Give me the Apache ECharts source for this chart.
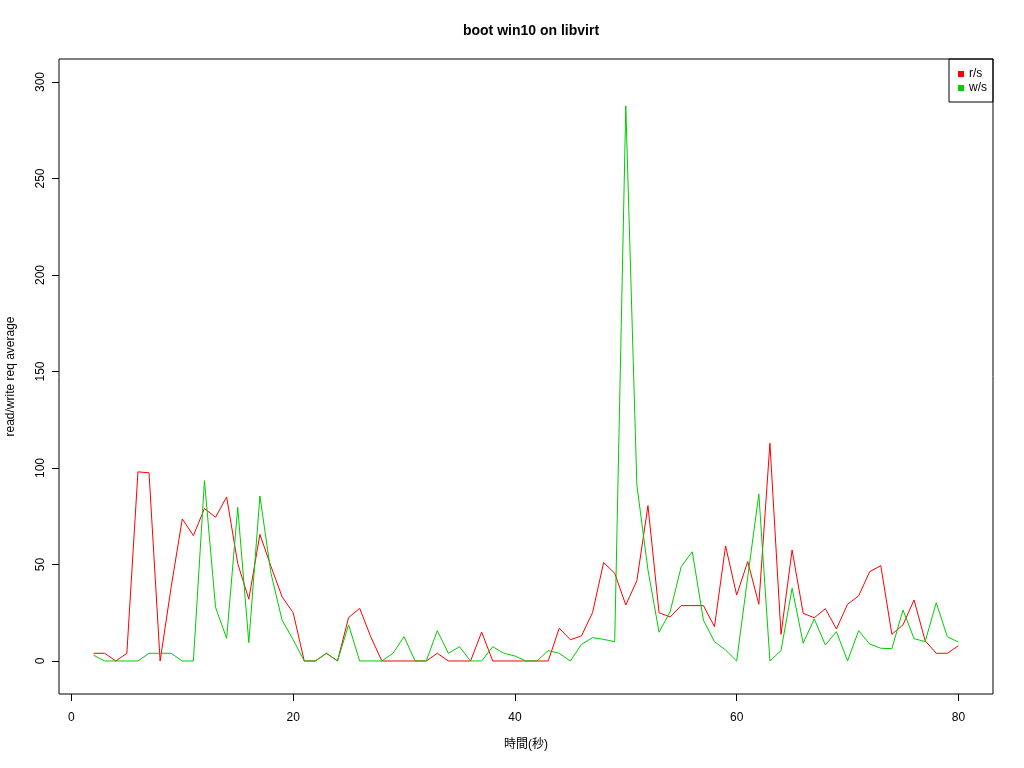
<!DOCTYPE html>
<html>
<head>
<meta charset="utf-8">
<script src="https://cdn.jsdelivr.net/npm/echarts@6/dist/echarts.min.js"></script>
<style>html,body{margin:0;padding:0;background:#fff}#c{width:1024px;height:768px}</style>
</head>
<body>
<div id="c"></div>
<script>
const times = [2,3,4,5,6,7,8,9,10,11,12,13,14,15,16,17,18,19,20,21,22,23,24,25,26,27,28,29,30,31,32,33,34,35,36,37,38,39,40,41,42,43,44,45,46,47,48,49,50,51,52,53,54,55,56,57,58,59,60,61,62,63,64,65,66,67,68,69,70,71,72,73,74,75,76,77,78,79,80];
const readPerSec = [4,4,0,4,98,97.5,0,38.5,73.6,65,79,74.5,85,50.5,32,65.6,49,33.3,25,0,0,4,0,22.5,27.3,12.5,0,0,0,0,0,4,0,0,0,15,0,0,0,0,0,0,17,11,13,25,51,45.5,29,41.6,80.5,25,22.8,28.7,28.7,28.7,17.8,59.6,34.2,51.5,29.4,112.8,13.8,57.5,24.7,22.4,27.1,16.6,29.4,33.7,46.3,49.4,13.8,18.7,31.6,10.5,4,4,7.9];
const writePerSec = [3,0,0,0,0,4,4,4,0,0,93.4,27.8,11.7,79.6,9.5,85.5,45.4,21.2,11,0,0,4,0,18.7,0,0,0,4,12.6,0,0,15.7,4,7.4,0,0,7.4,4,2.6,0,0,5.4,4,0,8.6,12.1,11.2,10,287.6,91.2,47.2,14.9,25.5,48.9,56.6,21.2,10,5.7,0,43.5,86.5,0,5.4,37.7,9.2,21.8,8.3,15.2,0,15.7,8.8,6.6,6.4,26.4,11.6,10,30.2,12.6,9.8];
const xTicks = [0,20,40,60,80];
const yTicks = [0,50,100,150,200,250,300];

const FONT = 'Liberation Sans, Arial, Noto Sans CJK JP, sans-serif';
const chart = echarts.init(document.getElementById('c'), null, {renderer:'canvas'});
chart.setOption({
  animation: false,
  backgroundColor: '#ffffff',
  title: {
    text: 'boot win10 on libvirt',
    left: 526, top: 19, textAlign: 'center',
    textStyle: {fontFamily: FONT, fontSize: 14, fontWeight: 'bold', color: '#000'}
  },
  legend: {
    orient: 'vertical', right: 31, top: 59,
    borderColor: '#000', borderWidth: 1, padding: [8, 6, 7, 9],
    itemWidth: 6, itemHeight: 6, itemGap: 0, icon: 'rect',
    textStyle: {fontFamily: FONT, fontSize: 12, color: '#000', lineHeight: 14},
    data: ['r/s', 'w/s']
  },
  grid: {left: 59, right: 31, top: 59, bottom: 74, containLabel: false, outerBoundsMode: 'none',
         show: true, borderColor: '#000', borderWidth: 1, backgroundColor: 'transparent'},
  xAxis: {
    type: 'value', min: -1.12, max: 83.12,
    name: '時間(秒)', nameLocation: 'middle', nameGap: 45,
    nameTextStyle: {fontFamily: FONT, fontSize: 12, color: '#000'},
    axisLine: {show: false, onZero: false},
    axisTick: {show: true, inside: false, length: 7, customValues: xTicks, lineStyle: {color: '#000'}},
    axisLabel: {customValues: xTicks, margin: 18, fontFamily: FONT, fontSize: 12, color: '#000'},
    splitLine: {show: false}
  },
  yAxis: {
    type: 'value', min: -17.1, max: 311.9,
    name: 'read/write req average', nameLocation: 'middle', nameGap: 42,
    nameTextStyle: {fontFamily: FONT, fontSize: 12, color: '#000'},
    axisLine: {show: false, onZero: false},
    axisTick: {show: true, inside: false, length: 7, customValues: yTicks, lineStyle: {color: '#000'}},
    axisLabel: {customValues: yTicks, rotate: 90, margin: 12, fontFamily: FONT, fontSize: 12, color: '#000'},
    splitLine: {show: false}
  },
  series: [
    {name: 'r/s', type: 'line', showSymbol: false, symbol: 'none', color: '#FF0000',
     lineStyle: {width: 1, color: '#FF0000'}, data: times.map((t, i) => [t, readPerSec[i]])},
    {name: 'w/s', type: 'line', showSymbol: false, symbol: 'none', color: '#00CD00',
     lineStyle: {width: 1, color: '#00CD00'}, data: times.map((t, i) => [t, writePerSec[i]])}
  ]
});
</script>
</body>
</html>
